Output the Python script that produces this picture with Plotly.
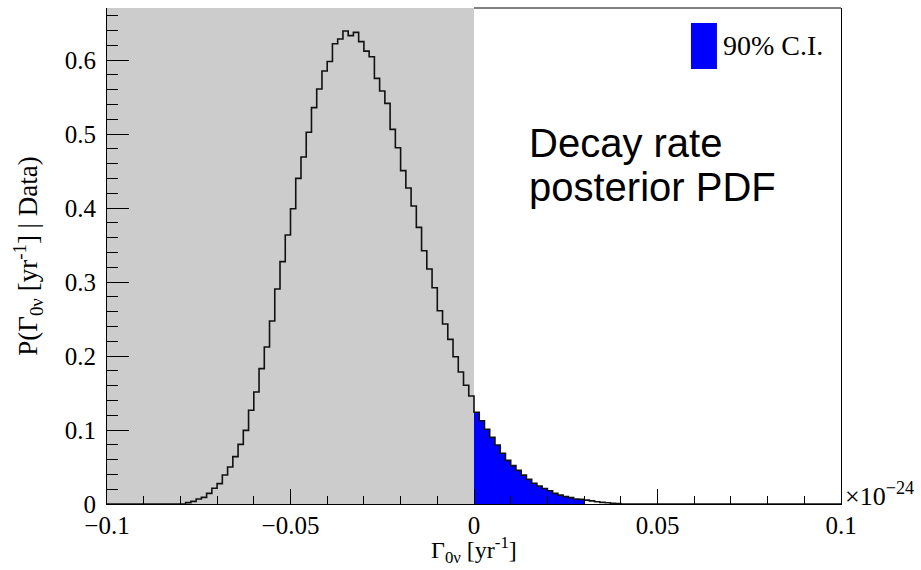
import numpy as np
import plotly.graph_objects as go

# ---------------- data ----------------
x_min, x_max = -0.1, 0.1
n_bins = 140
# posterior values, bin by bin (left part, below 0)
neg_vals = [0.0018, 0.0036, 0.0068, 0.0090, 0.0144, 0.0212, 0.0275, 0.0392, 0.0500,
            0.0640, 0.0806, 0.0995, 0.1266, 0.1514, 0.1829, 0.2122, 0.2473, 0.2905,
            0.3275, 0.3635, 0.3990, 0.4401, 0.4689, 0.5023, 0.5356, 0.5608, 0.5851,
            0.5980, 0.6220, 0.6284, 0.6392, 0.6329, 0.6374, 0.6248, 0.6120, 0.6045,
            0.5752, 0.5581, 0.5414, 0.5063, 0.4815, 0.4505, 0.4270, 0.4027, 0.3739,
            0.3423, 0.3176, 0.2923, 0.2612, 0.2432, 0.2225, 0.1990, 0.1784, 0.1604,
            0.1459]
# bins inside the 90% credible interval (from 0 upward)
ci_vals = [0.1240, 0.1126, 0.1010, 0.0900, 0.0797, 0.0685, 0.0590, 0.0518, 0.0455,
           0.0390, 0.0333, 0.0280, 0.0243, 0.0210, 0.0180, 0.0144, 0.0120, 0.0099,
           0.0086, 0.0068, 0.0063]
tail_vals = [0.0052, 0.0042, 0.0030, 0.0022, 0.0016, 0.0011, 0.0007]

x_ticks = [-0.1, -0.05, 0.0, 0.05, 0.1]
y_ticks = [0, 0.1, 0.2, 0.3, 0.4, 0.5, 0.6]
ci_label = "90% C.I."
note_lines = ["Decay rate", "posterior PDF"]

# ---------------- build histogram ----------------
edges = np.linspace(x_min, x_max, n_bins + 1)
bw = edges[1] - edges[0]
zero_idx = n_bins // 2
n_left_zero = zero_idx - len(neg_vals)
counts = [0.0] * n_left_zero + neg_vals + ci_vals + tail_vals
counts = counts + [0.0] * (n_bins - len(counts))
counts = np.array(counts)

ci_start = zero_idx
ci_centers = (edges[ci_start:ci_start + len(ci_vals)] + bw / 2)

step_x = list(edges)
step_y = list(counts) + [counts[-1]]

serif = "Liberation Serif"
sans = "Liberation Sans"

fig = go.Figure()

fig.add_trace(go.Bar(
    x=ci_centers, y=ci_vals, width=bw,
    marker=dict(color="#0000ff", line=dict(width=0)),
    showlegend=False, hoverinfo="skip"))

fig.add_trace(go.Scatter(
    x=step_x, y=step_y, mode="lines", line_shape="hv",
    line=dict(color="#111111", width=1.6),
    showlegend=False, hoverinfo="skip"))

# grey shading of the negative half
fig.add_shape(type="rect", xref="x", yref="y domain", x0=x_min, x1=0.0, y0=0, y1=1,
              fillcolor="#cccccc", line=dict(width=0), layer="below")
# top frame line over the white part
fig.add_shape(type="line", xref="x", yref="y domain", x0=0.0, x1=x_max, y0=1, y1=1,
              line=dict(color="black", width=1))

# legend box
fig.add_shape(type="rect", xref="paper", yref="paper", x0=0.7956, x1=0.831,
              y0=0.877, y1=0.9698, fillcolor="#0000ff", line=dict(width=0))
fig.add_annotation(xref="paper", yref="paper", x=0.837, y=0.9234, text=ci_label,
                   showarrow=False, xanchor="left", yanchor="middle",
                   font=dict(family=serif, size=28, color="black"))

# text note
fig.add_annotation(xref="paper", yref="paper", x=0.572, y=0.728, text=note_lines[0],
                   showarrow=False, xanchor="left", yanchor="middle",
                   font=dict(family=sans, size=40, color="black"))
fig.add_annotation(xref="paper", yref="paper", x=0.572, y=0.640, text=note_lines[1],
                   showarrow=False, xanchor="left", yanchor="middle",
                   font=dict(family=sans, size=40, color="black"))

# exponent
fig.add_annotation(xref="paper", yref="paper", x=1.0, y=0.0, xshift=2, yshift=10,
                   text="×10<sup>−24</sup>", showarrow=False, xanchor="left",
                   yanchor="middle", font=dict(family=serif, size=26, color="black"))

# axis titles
fig.add_annotation(xref="paper", yref="paper", x=0.5, y=-0.1331, yshift=1,
                   text="Γ<sub>0ν</sub> [yr<sup>-1</sup>]", showarrow=False,
                   xanchor="center", yanchor="bottom",
                   font=dict(family=serif, size=24, color="black"))
fig.add_annotation(xref="paper", yref="paper", x=-0.108, y=0.5, textangle=-90,
                   text="P(Γ<sub>0ν</sub> [yr<sup>-1</sup>] | Data)", showarrow=False,
                   xanchor="center", yanchor="middle",
                   font=dict(family=serif, size=27, color="black"))

fig.update_layout(
    width=921, height=570,
    margin=dict(l=107, r=80, t=8, b=66),
    paper_bgcolor="white", plot_bgcolor="white",
    bargap=0, showlegend=False,
    xaxis=dict(range=[x_min, x_max], tickvals=x_ticks,
               ticktext=[("−" if v < 0 else "") + (f"{abs(v):g}") for v in x_ticks],
               ticks="inside", ticklen=15, tickwidth=1, tickcolor="black",
               minor=dict(dtick=0.01, tick0=x_min, ticks="inside", ticklen=8,
                          tickwidth=1, tickcolor="black"),
               showline=True, linecolor="black", linewidth=1, mirror=False,
               showgrid=False, zeroline=False, ticklabelstandoff=-1,
               tickfont=dict(family=serif, size=25, color="black")),
    yaxis=dict(range=[0, 0.6703], tickvals=y_ticks,
               ticktext=[f"{v:g}" for v in y_ticks],
               ticks="inside", ticklen=22, tickwidth=1, tickcolor="black",
               minor=dict(dtick=0.02, tick0=0, ticks="inside", ticklen=11,
                          tickwidth=1, tickcolor="black"),
               showline=True, linecolor="black", linewidth=1, mirror=True,
               showgrid=False, zeroline=False, ticklabelstandoff=5,
               tickfont=dict(family=serif, size=25, color="black")),
)

fig.write_html("out.html")
